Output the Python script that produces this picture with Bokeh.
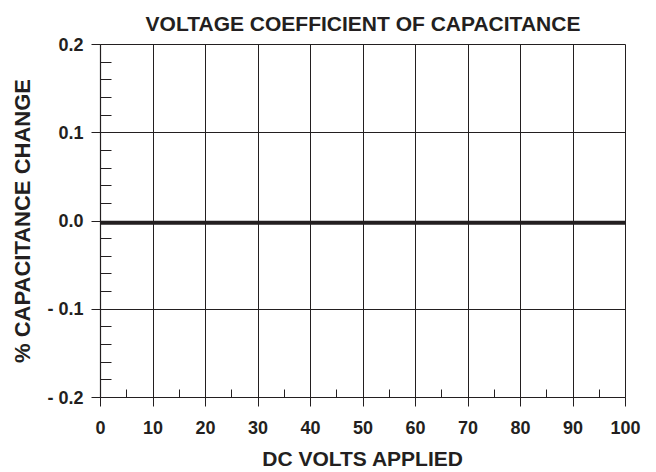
from bokeh.plotting import figure
from bokeh.models import FixedTicker, Range1d
from bokeh.embed import file_html
from bokeh.resources import INLINE

# Data
volts = [0, 10, 20, 30, 40, 50, 60, 70, 80, 90, 100]
cap_change = [-0.002, -0.002, -0.002, -0.002, -0.002, -0.002, -0.002, -0.002, -0.002, -0.002, -0.002]

x_ticks = [0, 10, 20, 30, 40, 50, 60, 70, 80, 90, 100]
x_minor = [5, 15, 25, 35, 45, 55, 65, 75, 85, 95]
y_ticks = [-0.2, -0.1, 0.0, 0.1, 0.2]
y_tick_labels = ["- 0.2", "- 0.1", "0.0", "0.1", "0.2"]
y_minor = [-0.18, -0.16, -0.14, -0.12, -0.08, -0.06, -0.04, -0.02,
           0.02, 0.04, 0.06, 0.08, 0.12, 0.14, 0.16, 0.18]

FONT = "Liberation Sans"
INK = "#231f20"

p = figure(width=656, height=472, output_backend="svg", toolbar_location=None,
           x_range=Range1d(0, 100), y_range=Range1d(-0.2, 0.2),
           title="VOLTAGE COEFFICIENT OF CAPACITANCE",
           min_border_left=100, min_border_right=31, min_border_top=44, min_border_bottom=74)

p.title.align = "center"
p.title.text_font = FONT
p.title.text_font_size = "21px"
p.title.text_font_style = "bold"
p.title.text_color = INK
p.title.standoff = 19

p.outline_line_color = INK
p.outline_line_width = 1
p.background_fill_color = "white"
p.border_fill_color = "white"

p.xaxis.ticker = FixedTicker(ticks=x_ticks, minor_ticks=x_minor)
p.yaxis.ticker = FixedTicker(ticks=y_ticks, minor_ticks=y_minor)
p.yaxis.major_label_overrides = {t: l for t, l in zip(y_ticks, y_tick_labels)}

for ax in (p.xaxis, p.yaxis):
    ax.axis_line_color = INK
    ax.axis_line_width = 1.2
    ax.major_tick_line_color = INK
    ax.minor_tick_line_color = INK
    ax.major_tick_out = 9
    ax.major_tick_in = 0
    ax.minor_tick_out = 0
    ax.major_label_text_font = FONT
    ax.major_label_text_font_style = "bold"
    ax.major_label_text_font_size = "18px"
    ax.major_label_text_color = INK
    ax.axis_label_text_font = FONT
    ax.axis_label_text_font_style = "bold"
    ax.axis_label_text_color = INK

p.xaxis.axis_label_text_font_size = "21px"
p.yaxis.axis_label_text_font_size = "22px"
p.xaxis.minor_tick_in = 8
p.yaxis.minor_tick_in = 11
p.xaxis.major_label_standoff = 14
p.yaxis.major_label_standoff = 8
p.xaxis.axis_label = "DC VOLTS APPLIED"
p.yaxis.axis_label = "% CAPACITANCE CHANGE"
p.xaxis.axis_label_standoff = 10
p.yaxis.axis_label_standoff = 9

p.xgrid.ticker = FixedTicker(ticks=x_ticks)
p.ygrid.ticker = FixedTicker(ticks=y_ticks)
p.grid.grid_line_color = INK
p.grid.grid_line_width = 1
p.grid.grid_line_alpha = 1

p.line(volts, cap_change, line_color=INK, line_width=4)

open("out.html", "w").write(file_html(p, INLINE))
